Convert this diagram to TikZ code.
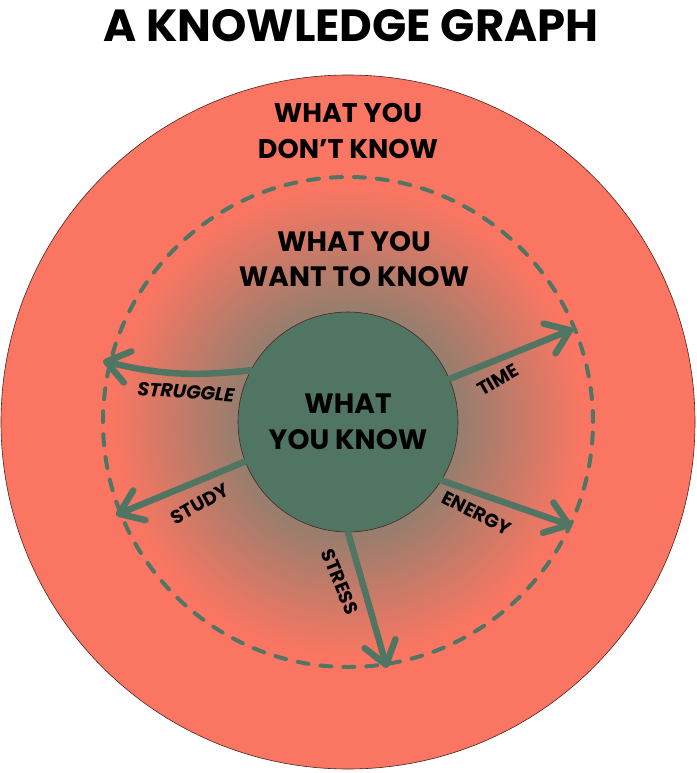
\documentclass[tikz,border=0pt]{standalone}
\usepackage{fontspec}
\setmainfont{Poppins}
\usetikzlibrary{arrows.meta}

\definecolor{kgreen}{RGB}{80,117,98}
\definecolor{ksalmon}{RGB}{250,118,98}
\definecolor{kmid}{RGB}{148,126,110}
\definecolor{kedge}{RGB}{80,35,30}
\pgfdeclareradialshading{knowfade}{\pgfpoint{0bp}{0bp}}{color(0bp)=(kgreen); color(11bp)=(kmid); color(24bp)=(ksalmon); color(50bp)=(ksalmon)}

\begin{document}
\begin{tikzpicture}[x=1pt, y=-1pt,
    ring/.style={circle, draw=kedge, line width=0.6pt, inner sep=0pt},
    heading/.style={font=\bfseries\fontsize{27}{36}\selectfont, align=center},
    pathlabel/.style={font=\bfseries\fontsize{19}{24}\selectfont},
    growarrow/.style={draw=kgreen, line width=6.5pt, line cap=round,
        -{Straight Barb[length=22pt, width=32pt, round]}}]
        \useasboundingbox (0,0) rectangle (696,773);
        \coordinate (c) at (348,422); %
        \node[font=\bfseries\fontsize{45}{50}\selectfont] (title) at (351,26) {A KNOWLEDGE GRAPH}; %
        \node[ring, fill=ksalmon, minimum size=694pt] (dont) at (c) {}; %
        \node[circle, shade, shading=knowfade, draw=kgreen, line width=4pt, line cap=round,
            dash pattern=on 11pt off 12pt, minimum size=490pt] (want) at (c) {}; %
        \node[ring, fill=kgreen, minimum size=220pt, heading, font=\bfseries\fontsize{28}{36}\selectfont] (know) at (c) {WHAT\\YOU KNOW}; %
        \node[heading] (donttext) at (348,131) {WHAT YOU\\DON’T KNOW}; %
        \node[heading, font=\bfseries\fontsize{28}{35}\selectfont] (wanttext) at (354,259) {WHAT YOU\\WANT TO KNOW}; %
        % end points on the dashed ring
        \coordinate (struggleEnd) at (103,361); %
        \coordinate (studyEnd) at (116,515); %
        \coordinate (timeEnd) at (573,329); %
        \coordinate (energyEnd) at (572,526); %
        \coordinate (stressEnd) at (387,668); %
        \draw[growarrow] (know.152) to[bend left=10] (struggleEnd); %
        \draw[growarrow] (know.201) -- (studyEnd); %
        \draw[growarrow] (know.23) -- (timeEnd); %
        \draw[growarrow] (know.-32) -- (energyEnd); %
        \draw[growarrow] (know.270) -- (stressEnd); %
        \node[pathlabel, rotate=-4] (struggle) at (186,392) {\itshape STRUGGLE}; %
        \node[pathlabel, rotate=29] (study) at (200,504) {STUDY}; %
        \node[pathlabel, rotate=30] (time) at (498,380) {TIME}; %
        \node[pathlabel, rotate=-27] (energy) at (477,513) {ENERGY}; %
        \node[pathlabel, rotate=-68] (stress) at (340,582) {STRESS}; %
\end{tikzpicture}
\end{document}
